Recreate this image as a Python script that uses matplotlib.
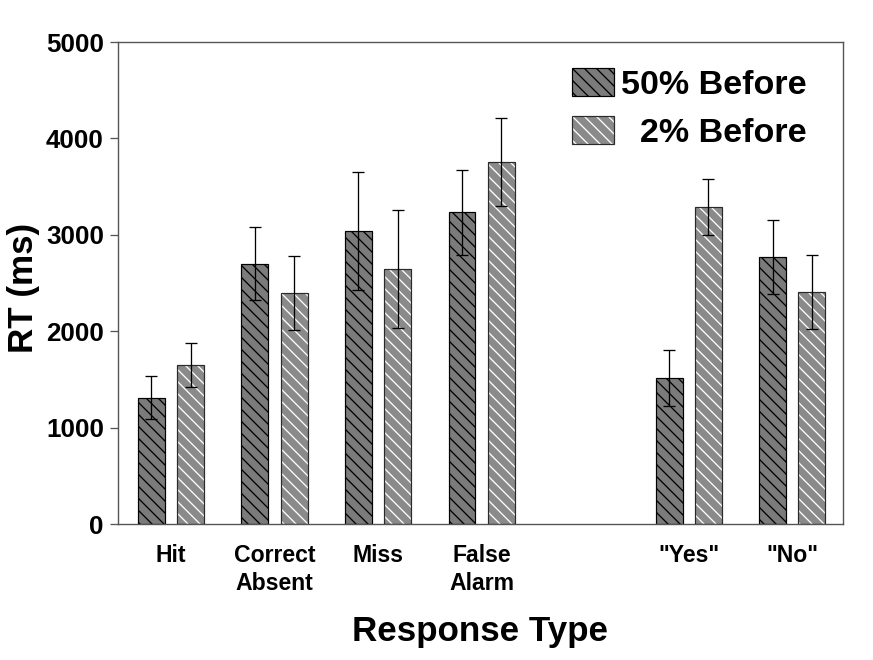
"""RT by response type, 50% vs 2% before — hatched grouped bars with error bars."""

import matplotlib

matplotlib.use("Agg")
import matplotlib.pyplot as plt
import numpy as np
from matplotlib.legend_handler import HandlerTuple
from matplotlib.patches import Patch

plt.rcParams["font.family"] = ["Liberation Sans", "DejaVu Sans"]
plt.rcParams["font.weight"] = "bold"
plt.rcParams["hatch.linewidth"] = 1.3

# data
categories = ["Hit", "Correct\nAbsent", "Miss", "False\nAlarm", '"Yes"', '"No"']
positions = [0, 1, 2, 3, 5, 6]
rt_50 = [1310, 2700, 3040, 3235, 1515, 2770]
err_50 = [225, 380, 615, 440, 290, 385]
rt_2 = [1650, 2400, 2645, 3755, 3290, 2410]
err_2 = [228, 385, 615, 455, 290, 385]
series_labels = ["50% Before", "  2% Before"]

DPI = 72  # 1 pt = 1 px
HATCH = "\\\\"  # two backslashes -> ~12 px line spacing
fig = plt.figure(figsize=(873 / DPI, 660 / DPI), dpi=DPI)
ax = fig.add_axes([118 / 873, 136 / 660, 725 / 873, 482 / 660])

x = np.array(positions, dtype=float)
w = 0.26
off = 0.19
c50, c2, edge = "#7b7b7b", "#8a8a8a", "#2a2a2a"

# 50%: black hatch, black edge
ax.bar(x - off, rt_50, w, color=c50, edgecolor="black", hatch=HATCH, linewidth=1.2, zorder=2)
# 2%: white hatch, then redraw a dark outline on top
ax.bar(x + off, rt_2, w, color=c2, edgecolor="white", hatch=HATCH, linewidth=0, zorder=2)
ax.bar(x + off, rt_2, w, fill=False, edgecolor=edge, linewidth=1.2, zorder=3)

ekw = dict(fmt="none", ecolor="black", elinewidth=1.3, capsize=6, capthick=1.3, zorder=4)
ax.errorbar(x - off, rt_50, yerr=err_50, **ekw)
ax.errorbar(x + off, rt_2, yerr=err_2, **ekw)

ax.set_xlim(-0.512, 6.49)
ax.set_ylim(0, 5000)
ax.set_yticks(range(0, 5001, 1000))
ax.set_xticks(positions)
ax.set_xticklabels(categories, fontsize=23, fontweight="bold", linespacing=1.3)
ax.tick_params(axis="x", length=0, pad=20)
ax.tick_params(axis="y", length=8, width=1.3, color="#555", labelsize=26, pad=6)
for lab in ax.get_yticklabels():
    lab.set_fontweight("bold")

for s in ax.spines.values():
    s.set_color("#555")
    s.set_linewidth(1.4)

ax.set_ylabel("RT (ms)", fontsize=35, fontweight="bold")
ax.yaxis.set_label_coords(-0.108, 0.49)
ax.set_xlabel("Response Type", fontsize=35, fontweight="bold")
ax.xaxis.set_label_coords(0.5, -0.188)

h50 = Patch(facecolor=c50, edgecolor="black", hatch=HATCH, linewidth=1.2)
h2 = (Patch(facecolor=c2, edgecolor="white", hatch=HATCH, linewidth=0),
      Patch(fill=False, edgecolor=edge, linewidth=1.2))
leg = ax.legend([h50, h2], series_labels, loc="upper right", bbox_to_anchor=(0.973, 0.982),
                frameon=False, fontsize=34, borderpad=0, handlelength=1.25, handleheight=0.9,
                handletextpad=0.2, labelspacing=0.45,
                handler_map={tuple: HandlerTuple(ndivide=1, pad=0)})
for t in leg.get_texts():
    t.set_fontweight("bold")

fig.savefig("out.png", dpi=DPI)
